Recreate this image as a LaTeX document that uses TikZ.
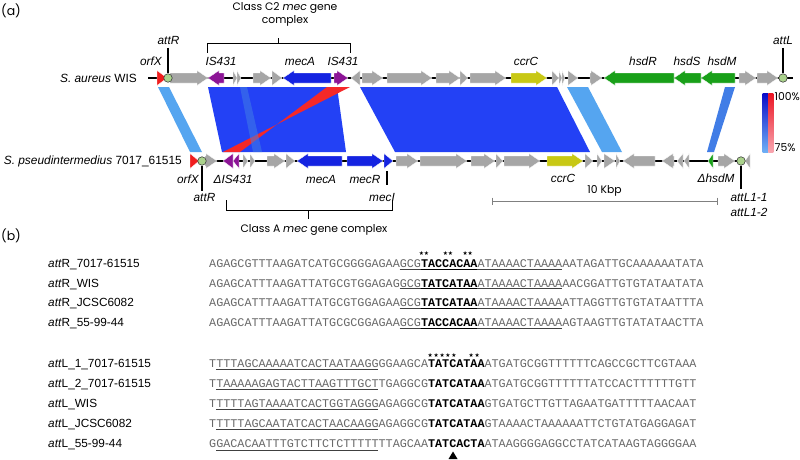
\documentclass[tikz,border=0pt]{standalone}
\usepackage{fontspec}
\setmainfont{Liberation Sans}
\newfontfamily\seqf{Liberation Mono}
\newfontfamily\geof{Poppins}
\newfontfamily\symf{DejaVu Sans}
\definecolor{ggray}{RGB}{166,166,166}
\definecolor{gpurp}{RGB}{140,20,150}
\definecolor{gblue}{RGB}{20,35,225}
\definecolor{gyel}{RGB}{200,200,20}
\definecolor{ggreen}{RGB}{25,160,25}
\definecolor{gred}{RGB}{240,30,30}
\definecolor{bbig}{RGB}{35,65,245}
\definecolor{blight}{RGB}{85,165,240}
\definecolor{bmid}{RGB}{65,125,230}
\definecolor{bred}{RGB}{245,40,40}
\definecolor{circ}{RGB}{170,210,140}
\definecolor{seqgray}{RGB}{105,105,105}
\definecolor{legBtop}{RGB}{10,10,200}
\definecolor{legBbot}{RGB}{110,175,245}
\definecolor{legRtop}{RGB}{235,20,35}
\definecolor{legRbot}{RGB}{248,165,175}
\newcommand\geneR[4]{%
  \pgfmathsetmacro\gB{max(#1,#2-11)}%
  \filldraw[fill=#4,draw=white,line width=0.3pt] (#1,#3-5) -- (\gB,#3-5) -- (\gB,#3-7.5) -- (#2,#3) -- (\gB,#3+7.5) -- (\gB,#3+5) -- (#1,#3+5) -- cycle;}
\newcommand\geneL[4]{%
  \pgfmathsetmacro\gB{min(#2,#1+11)}%
  \filldraw[fill=#4,draw=white,line width=0.3pt] (#2,#3-5) -- (\gB,#3-5) -- (\gB,#3-7.5) -- (#1,#3) -- (\gB,#3+7.5) -- (\gB,#3+5) -- (#2,#3+5) -- cycle;}
\newcommand\Bd[1]{\textbf{\color{black}#1}}
\begin{document}
\begin{tikzpicture}[x=1pt,y=-1pt,
  lab/.style={font=\fontsize{11.8}{13}\selectfont\itshape, inner sep=0},
  trk/.style={font=\fontsize{11.9}{13}\selectfont, inner sep=0, anchor=east},
  geo/.style={font=\fontsize{10.8}{12}\selectfont\geof, inner sep=0},
  seq/.style={font=\fontsize{11.767}{13}\selectfont\seqf, text=seqgray, inner sep=0, anchor=base west},
  slab/.style={font=\fontsize{11.8}{13}\selectfont, inner sep=0, anchor=base west},
  star/.style={font=\fontsize{5.8}{6}\selectfont\symf, inner sep=0},
  att/.style={circle, fill=circ, draw=black!75, line width=0.6pt, minimum size=8.5pt, inner sep=0},
  stem/.style={line width=1.6pt},
  brace/.style={line width=0.9pt},
  ul/.style={line width=0.9pt, draw=black!75}]
\fill[white] (0,0) rectangle (800,460);
\useasboundingbox (0,0) rectangle (800,460);

% panel labels
\node[geo, font=\fontsize{12.5}{14}\selectfont\geof] (pa) at (11,11) {(a)};
\node[geo, font=\fontsize{12.5}{14}\selectfont\geof] (pb) at (11,236) {(b)};

% comparison bands
\fill[blight] (158,87) -- (169,87) -- (202,152) -- (190,152) -- cycle;
\fill[bbig] (208,87) -- (337,87) -- (346,152) -- (222,152) -- cycle;
\fill[bred] (327,87) -- (350,87) -- (223,152) -- (240,152) -- cycle;
\fill[bmid, opacity=0.55] (240,87) -- (247,87) -- (262,152) -- (253,152) -- cycle;
\fill[bbig] (360,87) -- (557,87) -- (590,152) -- (395,152) -- cycle;
\fill[blight] (567,87) -- (588,87) -- (622,152) -- (602,152) -- cycle;
\fill[bmid] (725,87) -- (735,87) -- (714,152) -- (707,152) -- cycle;

% colour legend
\shade[top color=legBtop, bottom color=legBbot] (762.5,93) rectangle (768.3,152);
\shade[top color=legRtop, bottom color=legRbot] (768.3,93) rectangle (773.3,152);
\node[geo, anchor=west] (p100) at (774.5,97) {100\%};
\node[geo, anchor=west] (p75) at (774.5,148) {75\%};

% track lines
\draw[line width=2.2pt] (148,78) -- (793,78);
\draw[line width=2.2pt] (190,161) -- (750,161);

% top genes (S. aureus WIS)
\geneR{157}{167}{78}{gred}
\geneR{170}{208}{78}{ggray}
\geneL{208}{224}{78}{gpurp}
\geneR{233}{237}{78}{ggray}
\geneR{237}{241}{78}{ggray}
\geneR{253}{271}{78}{ggray}
\geneR{272}{282}{78}{ggray}
\geneL{283}{331}{78}{gblue}
\geneR{334}{348}{78}{gpurp}
\geneL{351}{360}{78}{ggray}
\geneR{362}{383}{78}{ggray}
\geneR{387}{432}{78}{ggray}
\geneR{436}{460}{78}{ggray}
\geneR{460}{468}{78}{ggray}
\geneR{470}{506}{78}{ggray}
\geneR{511}{547}{78}{gyel}
\geneR{552}{559}{78}{ggray}
\geneR{559}{562}{78}{ggray}
\geneR{562}{565}{78}{ggray}
\geneR{568}{578}{78}{ggray}
\geneR{590}{602}{78}{ggray}
\geneL{604}{674}{78}{ggreen}
\geneL{674}{701}{78}{ggreen}
\geneL{701}{735}{78}{ggreen}
\geneR{739}{756}{78}{ggray}
\geneR{757}{778}{78}{ggray}

% bottom genes (S. pseudintermedius)
\geneR{190}{199}{161}{gred}
\geneR{205}{217}{161}{ggray}
\geneL{223}{233}{161}{gpurp}
\geneL{233}{239}{161}{gpurp}
\geneR{243}{248}{161}{ggray}
\geneR{250}{255}{161}{ggray}
\geneR{267}{285}{161}{ggray}
\geneR{286}{295}{161}{ggray}
\geneL{297}{342}{161}{gblue}
\geneR{347}{383}{161}{gblue}
\geneR{384}{393}{161}{gblue}
\geneR{396}{418}{161}{ggray}
\geneR{420}{467}{161}{ggray}
\geneR{471}{495}{161}{ggray}
\geneR{496}{503}{161}{ggray}
\geneR{504}{540}{161}{ggray}
\geneR{547}{583}{161}{gyel}
\geneR{585}{593}{161}{ggray}
\geneR{597}{602}{161}{ggray}
\geneR{604}{615}{161}{ggray}
\geneR{616}{620}{161}{ggray}
\geneL{623}{655}{161}{ggray}
\geneL{662}{674}{161}{ggray}
\geneL{677}{683}{161}{ggray}
\geneL{684}{689}{161}{ggray}
\geneL{708}{713}{161}{ggreen}
\geneR{718}{735}{161}{ggray}
\geneL{745}{750}{161}{ggray}

% att sites
\node[att] (cR1) at (168,78) {};
\node[att] (cL1) at (783,78) {};
\node[att] (cR2) at (202,161) {};
\node[att] (cL2) at (741,161) {};
\coordinate (tR1) at (168,48);
\coordinate (tL1) at (783,48);
\coordinate (tR2) at (202,191);
\coordinate (tL2) at (741,189);
\draw[stem] (tR1) -- (cR1.north);
\draw[stem] (tL1) -- (cL1.north);
\draw[stem] (cR2.south) -- (tR2);
\draw[stem] (cL2.south) -- (tL2);
\coordinate (mI1) at (387,171);
\coordinate (mI2) at (387,185);
\draw[stem] (mI1) -- (mI2);

% track names
\node[trk] (wis) at (137,78) {\textit{S. aureus} WIS};
\node[trk] (psi) at (182,161) {\textit{S. pseudintermedius} 7017\_61515};

% top gene labels
\node[lab] (lattR1) at (168.5,40) {attR};
\node[lab] (lattL1) at (783,40) {attL};
\node[lab] (lorf1) at (151,61) {orfX};
\node[lab] (lis1) at (221,61) {IS431};
\node[lab] (lmecA1) at (300,61) {mecA};
\node[lab] (lis2) at (343,61) {IS431};
\node[lab] (lccr1) at (526,61) {ccrC};
\node[lab] (lhsdR) at (643,61) {hsdR};
\node[lab] (lhsdS) at (687,61) {hsdS};
\node[lab] (lhsdM) at (722,61) {hsdM};

% bottom gene labels
\node[lab] (lorf2) at (188,179) {orfX};
\node[lab] (ldis) at (233,179) {ΔIS431};
\node[lab] (lattR2) at (204.5,197.5) {attR};
\node[lab] (lmecA2) at (321,179) {mecA};
\node[lab] (lmecR) at (365,179) {mecR};
\node[lab] (lmecI) at (382,197.5) {mecI};
\node[lab] (lccr2) at (563,178) {ccrC};
\node[lab] (ldhsd) at (716,178) {ΔhsdM};
\node[lab] (lattL11) at (749,197.5) {attL1-1};
\node[lab] (lattL12) at (749,212) {attL1-2};

% braces
\draw[brace] (207,53) -- (207,43) -- (350,43) -- (350,53);
\draw[brace] (278,43) -- (278,38);
\node[geo] (c2a) at (285,8) {Class C2 \textit{mec} gene};
\node[geo] (c2b) at (285,21) {complex};
\draw[brace] (226,200) -- (226,210) -- (392,210) -- (392,200);
\draw[brace] (308,210) -- (308,219);
\node[geo] (cA) at (314,230) {Class A \textit{mec} gene complex};

% scale bar
\draw[gray, line width=0.8pt] (492,201) -- (717,201);
\draw[gray, line width=0.8pt] (492,197.5) -- (492,204.5);
\draw[gray, line width=0.8pt] (717,197.5) -- (717,204.5);
\node[geo] (kbp) at (604.5,191) {10 Kbp};

% ---------- panel (b) ----------
% attR rows
\node[slab] (n1) at (48,267.3) {\textit{att}R\_7017-61515};
\node[slab] (n2) at (48,287) {\textit{att}R\_WIS};
\node[slab] (n3) at (48,306.7) {\textit{att}R\_JCSC6082};
\node[slab] (n4) at (48,326.3) {\textit{att}R\_55-99-44};
\node[seq] (q1) at (209,267.3) {AGAGCGTTTAAGATCATGCGGGGAGAAGCG\Bd{TACCACAA}ATAAAACTAAAAAATAGATTGCAAAAAATATA};
\node[seq] (q2) at (209,287) {AGAGCATTTAAGATTATGCGTGGAGAGGCG\Bd{TATCATAA}ATAAAACTAAAAAACGGATTGTGTATAATATA};
\node[seq] (q3) at (209,306.7) {AGAGCATTTAAGATTATGCGTGGAGAAGCG\Bd{TATCATAA}ATAAAACTAAAAATTAGGTTGTGTATAATTTA};
\node[seq] (q4) at (209,326.3) {AGAGCATTTAAGATTATGCGCGGAGAAGCG\Bd{TACCACAA}ATAAAACTAAAAAGTAAGTTGTATATAACTTA};
\foreach \yy in {267.3,287,306.7,326.3}{
  \draw[ul] (209+27*7.06,\yy+1.8) -- (209+50*7.06,\yy+1.8);
  \draw[line width=1.1pt] (209+30*7.06,\yy+1.8) -- (209+38*7.06,\yy+1.8);
}
\node[star] (s1) at (421.5,253.5) {★};
\node[star] (s2) at (426.5,253.5) {★};
\node[star] (s3) at (445.5,253.5) {★};
\node[star] (s4) at (450.5,253.5) {★};
\node[star] (s5) at (465.2,253.5) {★};
\node[star] (s6) at (470.2,253.5) {★};

% attL rows
\node[slab] (m1) at (48,367) {\textit{att}L\_1\_7017-61515};
\node[slab] (m2) at (48,387) {\textit{att}L\_2\_7017-61515};
\node[slab] (m3) at (48,407.2) {\textit{att}L\_WIS};
\node[slab] (m4) at (48,427.4) {\textit{att}L\_JCSC6082};
\node[slab] (m5) at (48,447.6) {\textit{att}L\_55-99-44};
\node[seq] (r1) at (209,367) {TTTTAGCAAAAATCACTAATAAGGGGAAGCA\Bd{TATCATAA}ATGATGCGGTTTTTTCAGCCGCTTCGTAAA};
\node[seq] (r2) at (209,387) {TTAAAAAGAGTACTTAAGTTTGCTTGAGGCG\Bd{TATCATAA}ATGATGCGGTTTTTTATCCACTTTTTTGTT};
\node[seq] (r3) at (209,407.2) {TTTTTAGTAAAATCACTGGTAGGGAGAGGCG\Bd{TATCATAA}GTGATGCTTGTTAGAATGATTTTTAACAAT};
\node[seq] (r4) at (209,427.4) {TTTTTAGCAATATCACTAACAAGGAGAGGCG\Bd{TATCATAA}GTAAAACTAAAAAATTCTGTATGAGGAGAT};
\node[seq] (r5) at (209,447.6) {GGACACAATTTGTCTTCTCTTTTTTTAGCAA\Bd{TATCACTA}ATAAGGGGAGGCCTATCATAAGTAGGGGAA};
\foreach \yy in {367,387,407.2,427.4,447.6}{
  \draw[ul] (209+1*7.06,\yy+2.5) -- (209+24*7.06,\yy+2.5);
}
\node[star] (t1) at (430.3,355.5) {★};
\node[star] (t2) at (436.2,355.5) {★};
\node[star] (t3) at (442.1,355.5) {★};
\node[star] (t4) at (448,355.5) {★};
\node[star] (t5) at (453.9,355.5) {★};
\node[star] (t6) at (471.2,355.5) {★};
\node[star] (t7) at (477.1,355.5) {★};
\fill (453,451.5) -- (457.5,459) -- (448.5,459) -- cycle;
\end{tikzpicture}
\end{document}
